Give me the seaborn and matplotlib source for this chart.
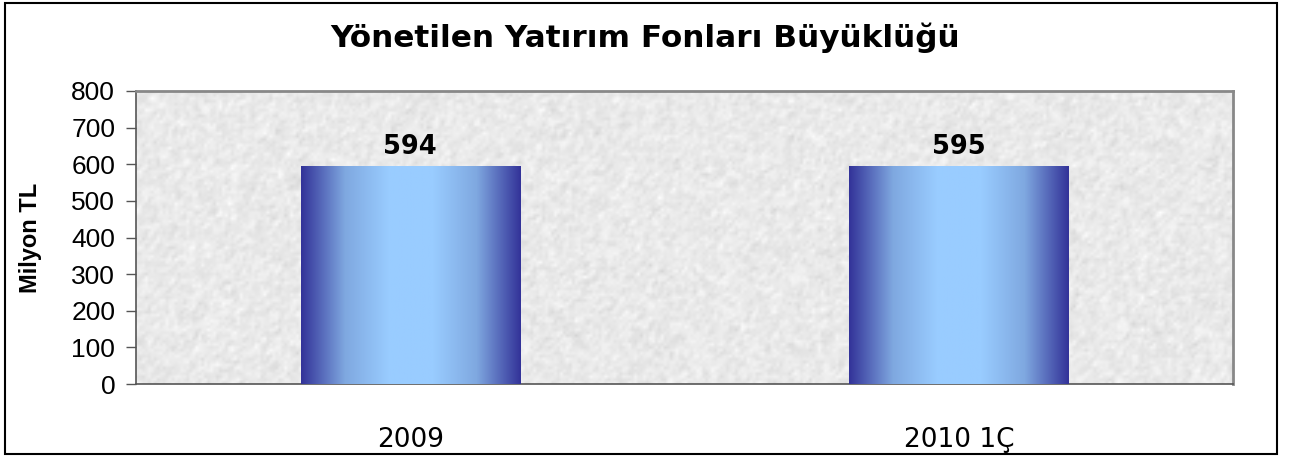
import numpy as np
import pandas as pd
import seaborn as sns
import matplotlib.pyplot as plt
from matplotlib.colors import LinearSegmentedColormap
from matplotlib.patches import Rectangle

# data
categories = ["2009", "2010 1Ç"]
values = [594, 595]
title = "Yönetilen Yatırım Fonları Büyüklüğü"
ylabel = "Milyon TL"
yticks = [0, 100, 200, 300, 400, 500, 600, 700, 800]

df = pd.DataFrame({"period": categories, "value": values})

sns.set_style("white")
plt.rcParams["font.family"] = ["DejaVu Sans"]
plt.rcParams["text.color"] = "black"
plt.rcParams["axes.labelcolor"] = "black"
plt.rcParams["xtick.color"] = "black"
plt.rcParams["ytick.color"] = "black"

fig = plt.figure(figsize=(12.91, 4.57), dpi=100)
ax = fig.add_axes([136 / 1291, 1 - 384 / 457, (1233 - 136) / 1291, (384 - 91) / 457])

# light granite-like background texture (decoration only)
rng = np.random.default_rng(7)
tex = rng.normal(0, 1, (100, 370))
tex = (tex + np.roll(tex, 1, 0) + np.roll(tex, 1, 1)) / 3
tex = np.clip(0.915 + 0.035 * tex, 0, 1)
ax.imshow(tex, cmap="gray", vmin=0, vmax=1, extent=[-0.5, 1.5, 0, 800],
          aspect="auto", interpolation="bilinear", zorder=0)

sns.barplot(data=df, x="period", y="value", width=0.40, color="#333399",
            saturation=1, linewidth=0, ax=ax, zorder=2)

# horizontal gradient fill on each bar
grad_cmap = LinearSegmentedColormap.from_list(
    "bar", ["#333399", "#7fa8e0", "#99ccff", "#99ccff", "#7fa8e0", "#333399"])
grad = np.linspace(0, 1, 256).reshape(1, -1)
for p in ax.patches:
    x0, y0 = p.get_x(), p.get_y()
    w, h = p.get_width(), p.get_height()
    ax.imshow(grad, cmap=grad_cmap, extent=[x0, x0 + w, y0, y0 + h],
              aspect="auto", zorder=3)
    ax.text(x0 + w / 2, h + 17, f"{h:.0f}", ha="center", va="bottom",
            fontsize=18.5, fontweight="bold", zorder=4)

ax.set_xlim(-0.5, 1.5)
ax.set_ylim(0, 800)
ax.set_yticks(yticks)
ax.set_yticklabels([str(t) for t in yticks], fontsize=19, family="Liberation Sans")
ax.set_xticks([0, 1])
ax.set_xticklabels(categories, fontsize=19)
ax.set_xticks([-0.5, 0.5, 1.5], minor=True)
ax.tick_params(axis="x", which="major", length=0, pad=31)
ax.tick_params(axis="x", which="minor", direction="out", length=7, width=1, color="#555555")
ax.tick_params(axis="y", direction="out", length=7, width=1, color="#555555", pad=8, left=True)
ax.set_xlabel("")
ax.set_ylabel(ylabel, fontsize=17, fontweight="bold", family="Liberation Sans")
ax.yaxis.set_label_coords((42 - 136) / 1097, 0.5)

for side in ["left", "bottom"]:
    ax.spines[side].set_color("#555555")
    ax.spines[side].set_linewidth(1.2)
for side in ["top", "right"]:
    ax.spines[side].set_color("#888888")
    ax.spines[side].set_linewidth(2)

fig.text(0.5, 1 - 38 / 457, title, ha="center", va="center", fontsize=22.4, fontweight="bold")

# outer chart border
fig.patches.append(Rectangle((5 / 1291, 3 / 457), (1277 - 5) / 1291, (454 - 3) / 457,
                             transform=fig.transFigure, fill=False, edgecolor="black",
                             linewidth=1.5))

fig.savefig("out.png", dpi=100)
